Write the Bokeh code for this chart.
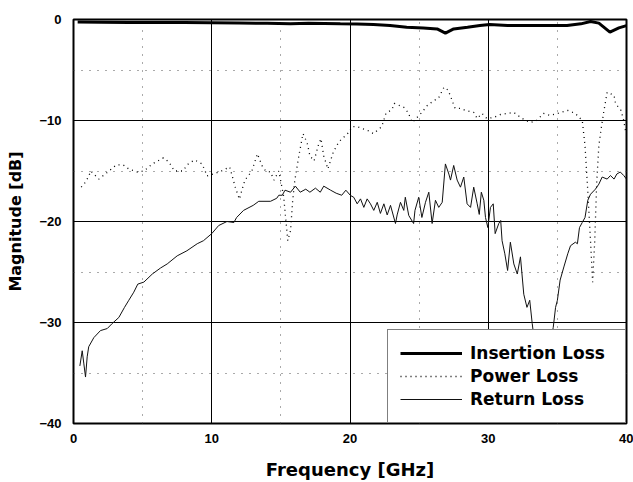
from bokeh.plotting import figure
from bokeh.models import Range1d, FixedTicker, Legend, LegendItem
from bokeh.embed import file_html
from bokeh.resources import INLINE

# ---- data ----
x_ticks = [0, 10, 20, 30, 40]
x_minor = [5, 15, 25, 35]
y_ticks = [-40, -30, -20, -10, 0]
y_minor = [-35, -25, -15, -5]

il_f = [0.3, 2, 4, 6, 8, 10, 12, 14, 15.7, 17, 19.3, 20.5, 21.7, 22.9, 24.1, 25.3,
        26.3, 26.9, 27.5, 28.5, 29.4, 30.1, 31.4, 32.6, 34.3, 35.7, 36.7, 37.4,
        38.0, 38.8, 39.45, 40]
il_db = [-0.25, -0.27, -0.3, -0.3, -0.3, -0.32, -0.35, -0.38, -0.43, -0.38, -0.43,
         -0.45, -0.5, -0.6, -0.76, -0.83, -0.93, -1.35, -0.93, -0.76, -0.6, -0.5,
         -0.6, -0.6, -0.6, -0.6, -0.43, -0.2, -0.36, -1.25, -0.83, -0.6]

pl_f = [0.56, 0.87, 1.1, 1.25, 1.83, 2.39, 3.1, 3.6, 4.0, 4.6, 5.1, 5.7, 6.5, 6.9,
        7.3, 7.9, 8.3, 8.75, 9.3, 9.55, 9.65, 10.1, 10.7, 11.3, 11.7, 12.0, 12.2,
        12.4, 12.9, 13.3, 13.65, 13.9, 14.25, 14.5, 14.85, 15.2, 15.5, 15.7, 15.85,
        16.0, 16.3, 16.6, 16.9, 17.1, 17.4, 17.7, 17.9, 18.1, 18.4, 18.8, 19.2,
        19.9, 20.15, 20.5, 21.3, 21.7, 22.3, 22.6, 23.05, 23.2, 23.9, 24.2, 24.5,
        24.85, 25.2, 25.6, 26.1, 26.4, 26.8, 27.1, 27.3, 27.6, 28.0, 28.35, 28.95,
        29.2, 29.55, 29.9, 30.4, 30.9, 31.4, 31.85, 32.45, 33.05, 33.5, 34.0, 34.5,
        35.0, 35.75, 36.3, 36.8, 37.0, 37.2, 37.4, 37.55, 37.7, 37.85, 38.0, 38.2,
        38.35, 38.6, 39.1, 39.2, 39.6, 39.8, 39.95]
pl_db = [-16.6, -16.1, -15.5, -15.0, -15.8, -15.2, -14.4, -14.4, -14.8, -15.1, -15.0,
         -14.3, -13.7, -14.1, -15.0, -15.0, -14.3, -13.9, -14.3, -15.1, -15.5, -15.3,
         -15.0, -14.6, -16.6, -17.8, -16.8, -15.9, -15.0, -13.3, -14.5, -15.0, -15.1,
         -15.9, -15.0, -17.5, -21.9, -20.9, -18.0, -16.0, -13.5, -11.3, -12.2, -13.5,
         -14.0, -12.5, -11.8, -13.5, -14.8, -13.1, -12.1, -11.2, -10.6, -10.6, -11.0,
         -11.3, -10.6, -9.3, -8.9, -8.3, -8.7, -9.2, -10.2, -9.7, -9.2, -8.5, -8.0,
         -7.8, -6.7, -7.0, -7.7, -8.8, -8.8, -9.0, -9.2, -9.8, -9.3, -9.8, -9.7, -9.4,
         -9.3, -9.2, -9.8, -10.2, -10.0, -9.3, -9.5, -9.3, -9.0, -9.3, -10.0, -12.5,
         -17.0, -22.0, -26.0, -22.0, -16.0, -12.5, -10.5, -9.2, -7.2, -7.5, -8.3,
         -9.0, -10.0, -11.2]

rl_f = [0.46, 0.63, 0.75, 0.87, 0.99, 1.1, 1.47, 1.95, 2.44, 2.8, 3.28, 3.69, 4.0,
        4.36, 4.65, 5.09, 5.7, 6.3, 6.78, 7.5, 8.2, 8.95, 9.4, 10.0, 10.5, 11.1, 11.6,
        11.8, 12.3, 13.0, 13.4, 14.25, 14.7, 14.85, 15.1, 15.3, 15.7, 16.05, 16.4,
        16.8, 17.1, 17.5, 17.85, 18.1, 18.6, 19.0, 19.4, 19.7, 20.04, 20.27, 20.52,
        20.76, 21.0, 21.24, 21.48, 21.72, 21.97, 22.2, 22.45, 22.69, 22.93, 23.29,
        23.41, 23.65, 23.89, 24.0, 24.25, 24.6, 24.7, 24.97, 25.2, 25.46, 25.7, 25.94,
        26.18, 26.42, 26.67, 26.9, 27.15, 27.27, 27.5, 27.75, 27.99, 28.23, 28.47,
        28.72, 28.95, 29.2, 29.35, 29.5, 29.68, 29.8, 29.97, 30.16, 30.36, 30.5,
        30.76, 30.9, 31.0, 31.2, 31.4, 31.6, 31.85, 32.1, 32.33, 32.57, 32.8, 33.0,
        33.18, 33.4, 33.7, 34.0, 34.3, 34.55, 34.7, 34.87, 35.0, 35.2, 35.47, 35.75,
        35.95, 36.3, 36.45, 36.6, 36.8, 37.0, 37.2, 37.4, 37.75, 38.0, 38.24, 38.6,
        38.84, 39.1, 39.3, 39.55, 39.8, 40.0]
rl_db = [-34.3, -32.8, -34.1, -35.4, -33.4, -32.4, -31.5, -30.8, -30.6, -30.1, -29.5,
         -28.5, -27.8, -27.0, -26.2, -26.0, -25.2, -24.6, -24.2, -23.4, -22.9, -22.2,
         -21.9, -21.2, -20.4, -20.0, -20.1, -19.6, -18.9, -18.4, -18.0, -18.0, -17.7,
         -17.4, -17.4, -16.9, -17.1, -16.5, -17.1, -16.8, -17.1, -16.7, -17.1, -16.5,
         -16.9, -17.2, -17.4, -16.9, -17.43, -17.6, -18.25, -17.76, -18.6, -17.76,
         -18.25, -18.9, -18.1, -19.2, -18.25, -19.35, -18.4, -20.2, -19.35, -18.1,
         -18.9, -17.6, -19.4, -20.2, -18.9, -17.6, -19.6, -18.1, -17.1, -20.2, -17.9,
         -18.6, -18.1, -14.3, -15.3, -15.9, -14.45, -15.9, -16.6, -15.6, -18.25,
         -18.6, -16.6, -18.25, -19.3, -17.1, -17.9, -19.6, -20.6, -18.6, -18.25,
         -21.2, -20.2, -19.9, -21.9, -23.2, -24.85, -22.05, -24.2, -25.2, -23.5,
         -27.2, -28.5, -27.8, -30.1, -32.5, -33.5, -34.0, -33.0, -31.5, -30.5, -28.5,
         -27.8, -25.8, -24.5, -23.2, -22.4, -22.05, -22.2, -20.6, -20.1, -19.6, -17.9,
         -17.3, -16.8, -16.3, -15.6, -15.8, -15.45, -15.8, -15.3, -15.1, -15.45, -15.8]

series_names = ["Insertion Loss", "Power Loss", "Return Loss"]
x_title = "Frequency [GHz]"
y_title = "Magnitude [dB]"

# ---- figure ----
p = figure(width=633, height=482, x_range=Range1d(0, 40), y_range=Range1d(-40, 0),
           output_backend="svg", toolbar_location=None,
           min_border_left=73, min_border_right=7, min_border_top=19, min_border_bottom=59)
p.background_fill_color = "white"
p.border_fill_color = "white"
p.outline_line_color = "black"
p.outline_line_width = 2

p.xaxis.ticker = FixedTicker(ticks=x_ticks, minor_ticks=x_minor)
p.yaxis.ticker = FixedTicker(ticks=y_ticks, minor_ticks=y_minor)

for ax in (p.xaxis, p.yaxis):
    ax.axis_line_color = None
    ax.major_tick_line_color = None
    ax.minor_tick_line_color = None
    ax.major_tick_out = 0
    ax.major_tick_in = 0
    ax.minor_tick_out = 0
    ax.minor_tick_in = 0
    ax.major_label_text_font = "Liberation Sans"
    ax.major_label_text_font_style = "bold"
    ax.major_label_text_font_size = "13px"
    ax.major_label_text_color = "black"
    ax.axis_label_text_font = "DejaVu Sans"
    ax.axis_label_text_font_style = "bold"
    ax.axis_label_text_color = "black"

p.xaxis.axis_label = x_title
p.yaxis.axis_label = y_title
p.xaxis.axis_label_text_font_size = "18px"
p.yaxis.axis_label_text_font_size = "16px"
p.xaxis.major_label_standoff = 10
p.yaxis.major_label_standoff = 12
p.xaxis.axis_label_standoff = 13
p.yaxis.axis_label_standoff = 11

for g in (p.xgrid, p.ygrid):
    g.grid_line_color = "black"
    g.grid_line_width = 1
    g.grid_line_alpha = 1.0
    g.minor_grid_line_color = "#555555"
    g.minor_grid_line_dash = "1 7"
    g.minor_grid_line_width = 1

r_il = p.line(il_f, il_db, line_width=3, color="black")
r_pl = p.line(pl_f, pl_db, line_width=1.3, color="black", line_dash="1 4")
r_rl = p.line(rl_f, rl_db, line_width=1, color="#111111")

legend = Legend(items=[LegendItem(label=series_names[0], renderers=[r_il]),
                       LegendItem(label=series_names[1], renderers=[r_pl]),
                       LegendItem(label=series_names[2], renderers=[r_rl])],
                location="bottom_right", margin=0, padding=12, spacing=1,
                glyph_width=62, glyph_height=22, label_height=22,
                label_standoff=8, label_width=143,
                border_line_color="black", border_line_width=1.5,
                background_fill_color="white", background_fill_alpha=1.0,
                label_text_font="DejaVu Sans", label_text_font_style="bold",
                label_text_font_size="17px", label_text_color="black")
p.add_layout(legend)

open("out.html", "w").write(file_html(p, INLINE))
